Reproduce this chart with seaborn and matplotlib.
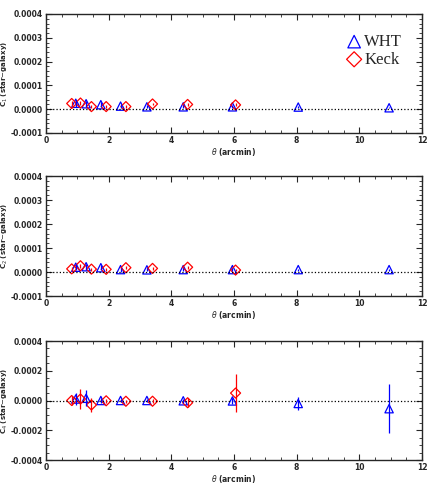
import matplotlib
matplotlib.use("Agg")
import matplotlib.pyplot as plt
from matplotlib.ticker import AutoMinorLocator
import seaborn as sns
import numpy as np

sns.set_style("ticks")
plt.rcParams['font.family'] = ['DejaVu Sans']

wht_x = [0.95, 1.28, 1.75, 2.38, 3.22, 4.38, 5.95, 8.05, 10.95]
keck_x = [0.82, 1.1, 1.45, 1.92, 2.55, 3.4, 4.52, 6.05]

wht_c1 = [2.5e-5, 2.3e-5, 1.9e-5, 1.3e-5, 1.0e-5, 1.0e-5, 1.0e-5, 0.9e-5, 0.6e-5]
wht_c1e = [1.5e-5, 1.3e-5, 1e-5, 0.8e-5, 0.6e-5, 0.6e-5, 0.6e-5, 0.4e-5, 0.3e-5]
keck_c1 = [2.4e-5, 2.6e-5, 1.1e-5, 1.1e-5, 1.1e-5, 2.2e-5, 2.0e-5, 1.8e-5]
keck_c1e = [1.0e-5, 0.8e-5, 0.6e-5, 0.5e-5, 0.5e-5, 0.6e-5, 0.6e-5, 0.6e-5]

wht_c2 = [2.0e-5, 2.2e-5, 1.8e-5, 1.0e-5, 0.9e-5, 1.0e-5, 1.0e-5, 1.0e-5, 1.0e-5]
wht_c2e = [1.3e-5, 1.3e-5, 1e-5, 0.8e-5, 0.6e-5, 0.6e-5, 0.5e-5, 0.4e-5, 0.4e-5]
keck_c2 = [1.3e-5, 2.6e-5, 1.2e-5, 1.1e-5, 1.8e-5, 1.5e-5, 2.0e-5, 0.8e-5]
keck_c2e = [0.8e-5, 0.8e-5, 0.6e-5, 0.5e-5, 0.5e-5, 0.6e-5, 0.6e-5, 0.5e-5]

wht_c4 = [1.0e-5, 1.5e-5, 0.0, 0.0, 0.0, -0.2e-5, -0.3e-5, -2.0e-5, -5.5e-5]
wht_c4e = [4e-5, 5.5e-5, 1.5e-5, 1e-5, 1e-5, 1.5e-5, 2e-5, 4.5e-5, 16.5e-5]
keck_c4 = [0.0, 1.0e-5, -3.0e-5, -0.2e-5, -0.5e-5, -0.5e-5, -1.5e-5, 5.0e-5]
keck_c4e = [3e-5, 6.5e-5, 4.5e-5, 1.5e-5, 1e-5, 1.5e-5, 3e-5, 13e-5]

panels = [
    (wht_c1, wht_c1e, keck_c1, keck_c1e, r"C$_1$ (star$-$galaxy)", (-0.0001, 0.0004), np.arange(-0.0001, 0.00041, 0.0001), 5),
    (wht_c2, wht_c2e, keck_c2, keck_c2e, r"C$_2$ (star$-$galaxy)", (-0.0001, 0.0004), np.arange(-0.0001, 0.00041, 0.0001), 5),
    (wht_c4, wht_c4e, keck_c4, keck_c4e, r"C$_4$ (star$-$galaxy)", (-0.0004, 0.0004), np.arange(-0.0004, 0.00041, 0.0002), 4),
]

fig = plt.figure(figsize=(4.36, 4.90), dpi=100)
rects = [(46/436, 1-133/490, 376/436, 119/490),
         (46/436, 1-296/490, 376/436, 120/490),
         (46/436, 1-460/490, 376/436, 119/490)]

for i, (wy, we, ky, ke, lab, ylim, ticks, nminor) in enumerate(panels):
    ax = fig.add_axes(rects[i])
    ax.axhline(0, color='black', ls=':', lw=0.9)
    ax.errorbar(wht_x, wy, yerr=we, fmt='none', ecolor='blue', lw=0.9)
    ax.errorbar(keck_x, ky, yerr=ke, fmt='none', ecolor='red', lw=0.9)
    sns.scatterplot(x=wht_x, y=wy, ax=ax, marker='^', s=36, facecolor='none',
                    edgecolor='blue', linewidth=0.9, label='WHT' if i == 0 else None)
    sns.scatterplot(x=keck_x, y=ky, ax=ax, marker='D', s=26, facecolor='none',
                    edgecolor='red', linewidth=0.9, label='Keck' if i == 0 else None)
    ax.set_xlim(0, 12)
    ax.set_ylim(*ylim)
    ax.set_yticks(ticks)
    ax.set_yticklabels(["%.4f" % (t if abs(t) > 1e-12 else 0.0) for t in ticks], fontsize=5.5, fontweight='bold')
    ax.set_xticks([0, 2, 4, 6, 8, 10, 12])
    ax.set_xticklabels(['0', '2', '4', '6', '8', '10', '12'], fontsize=5.5, fontweight='bold')
    ax.xaxis.set_minor_locator(AutoMinorLocator(4))
    ax.yaxis.set_minor_locator(AutoMinorLocator(nminor))
    ax.tick_params(which='both', direction='in', top=True, right=True, pad=2)
    ax.tick_params(which='major', length=4)
    ax.tick_params(which='minor', length=2)
    ax.set_xlabel(r"$\theta$ (arcmin)", fontsize=5.5, fontweight='bold', labelpad=1)
    ax.set_ylabel(lab, fontsize=5, fontweight='bold', labelpad=1)
    for s in ax.spines.values():
        s.set_linewidth(1.0)
    if i == 0:
        ax.legend(loc='upper right', frameon=False, handletextpad=0.1,
                  borderaxespad=0.8, labelspacing=0.1, handlelength=1.0, markerscale=1.5,
                  prop={'family': 'Liberation Serif', 'size': 12})

fig.savefig("out.png", dpi=100)
